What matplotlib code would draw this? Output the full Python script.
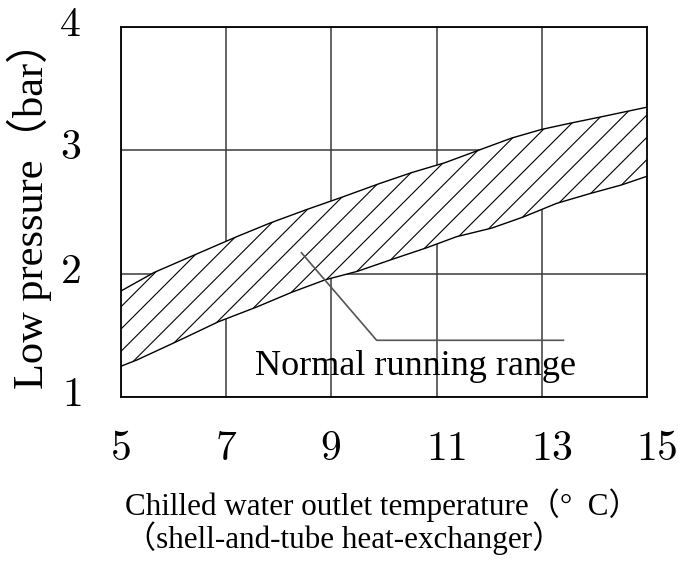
import matplotlib.pyplot as plt
import numpy as np

plt.rcParams['mathtext.fontset'] = 'cm'

# axis ticks
temp_ticks = [5, 7, 9, 11, 13, 15]
pressure_ticks = [1, 2, 3, 4]

# upper boundary of the normal running range
upper_t = [5, 5.63, 6.44, 7.2, 7.83, 8.53, 9.2, 9.91, 10.53, 11.16, 11.92, 12.43, 13.0, 13.54, 14.11, 15]
upper_p = [1.86, 2.01, 2.16, 2.30, 2.41, 2.52, 2.62, 2.73, 2.82, 2.90, 3.02, 3.10, 3.17, 3.22, 3.27, 3.35]

# lower boundary of the normal running range
lower_t = [5, 5.3, 6.06, 6.85, 7.58, 8.25, 8.88, 9.5, 10.18, 10.81, 11.38, 12.05, 12.65, 13.28, 13.92, 14.52, 15]
lower_p = [1.25, 1.30, 1.45, 1.61, 1.73, 1.85, 1.95, 2.02, 2.12, 2.21, 2.30, 2.37, 2.46, 2.57, 2.65, 2.72, 2.79]

# leader line for the band label
leader_t = [8.43, 9.86, 13.41]
leader_p = [2.17, 1.46, 1.46]

serif = ['Liberation Serif', 'Noto Sans CJK SC']

fig = plt.figure(figsize=(6.78, 5.72), dpi=100)
ax = fig.add_axes([0.1785, 0.3059, 0.7758, 0.6469])
ax.set_xlim(5, 15)
ax.set_ylim(1, 4)

ax.set_xticks(temp_ticks)
ax.set_yticks(pressure_ticks)
ax.set_xticklabels([])
ax.set_yticklabels([])
ax.tick_params(length=0)
ax.grid(True, color='#3a3a3a', lw=1.1)
ax.set_axisbelow(True)
for s in ax.spines.values():
    s.set_linewidth(1.3)
    s.set_color('black')

# tick labels in Computer Modern digits
for t in temp_ticks:
    ax.annotate(r'$%d$' % t, xy=(t, 0), xycoords=('data', 'axes fraction'),
                xytext=(-11, -63), textcoords='offset pixels',
                ha='left', va='baseline', fontsize=30)
for p in pressure_ticks:
    ax.annotate(r'$%d$' % p, xy=(0, p), xycoords=('axes fraction', 'data'),
                xytext=(-40, -9), textcoords='offset pixels',
                ha='right', va='baseline', fontsize=30)

# white band covering the grid, then hatching clipped to it
band_t = np.concatenate([upper_t, lower_t[::-1]])
band_p = np.concatenate([upper_p, lower_p[::-1]])
band, = ax.fill(band_t, band_p, facecolor='white', edgecolor='none', zorder=2)

slope = 0.4266
for c in np.arange(1.732 + 0.1807 * 2, -2.2, -0.1807):
    hl, = ax.plot([5, 15], [c, c + slope * 10], color='black', lw=0.8, zorder=3)
    hl.set_clip_path(band)

ax.plot(upper_t, upper_p, color='black', lw=1.0, zorder=4)
ax.plot(lower_t, lower_p, color='black', lw=1.0, zorder=4)

ax.plot(leader_t, leader_p, color='#555555', lw=1.2, zorder=5)
ax.text(7.55, 1.178, 'Normal running range', family=serif, fontsize=26,
        va='baseline', ha='left', zorder=6)

fig.text(43 / 678, 1 - 205 / 572, 'Low pressure（bar）', family=serif, fontsize=30.5,
         rotation=90, rotation_mode='anchor', ha='center', va='baseline')

fig.text(125 / 678, 1 - 515 / 572, 'Chilled water outlet temperature（°  C）',
         family=serif, fontsize=22.4, ha='left', va='baseline')
fig.text(125 / 678, 1 - 548 / 572, '（shell-and-tube heat-exchanger）',
         family=serif, fontsize=22.4, ha='left', va='baseline')

plt.savefig('out.png', dpi=100)
